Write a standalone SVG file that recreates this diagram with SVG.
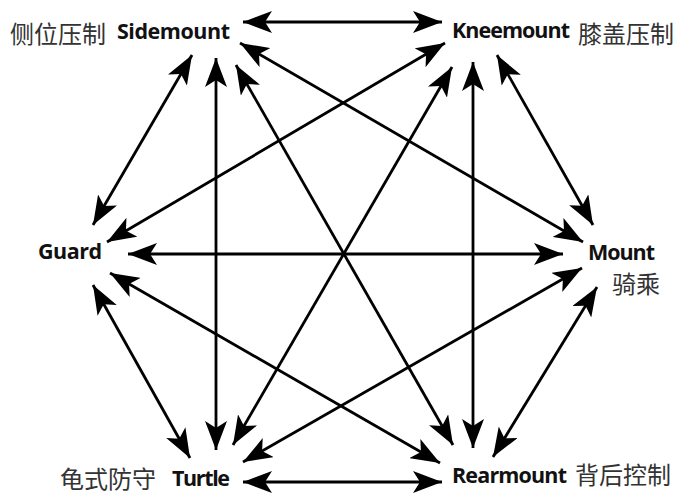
<svg xmlns="http://www.w3.org/2000/svg" width="693" height="496" viewBox="0 0 693 496">
<defs>
<marker id="ah" markerUnits="userSpaceOnUse" viewBox="0 0 30 22" markerWidth="30" markerHeight="22" refX="29" refY="11" orient="auto-start-reverse">
<path d="M29,11 L0,0 L7,11 L0,22 Z" fill="#000"/>
</marker>
</defs>
<style>
.c line{stroke:#000;stroke-width:2.8;fill:none;marker-start:url(#ah);marker-end:url(#ah)}
.en{font-family:"Open Sans","DejaVu Sans",sans-serif;font-weight:700;font-size:21.5px;fill:#111}
.zh{font-family:"Noto Sans CJK SC","Noto Sans",sans-serif;font-size:24px;fill:#333}
</style>
<rect width="693" height="496" fill="#fff"/>
<g id="connectors" class="c">
<line x1="243" y1="22" x2="442" y2="22"/>
<line x1="192" y1="55" x2="93" y2="225"/>
<line x1="216" y1="58" x2="216" y2="450"/>
<line x1="236" y1="65" x2="453" y2="445"/>
<line x1="240" y1="43" x2="583" y2="242"/>
<line x1="445" y1="43" x2="107" y2="242"/>
<line x1="452" y1="67" x2="233" y2="445"/>
<line x1="473" y1="62" x2="473" y2="448"/>
<line x1="497" y1="55" x2="593" y2="225"/>
<line x1="128" y1="254" x2="563" y2="254"/>
<line x1="110" y1="273" x2="440" y2="463"/>
<line x1="93" y1="285" x2="190" y2="458"/>
<line x1="582" y1="268" x2="243" y2="462"/>
<line x1="597" y1="287" x2="493" y2="457"/>
<line x1="243" y1="482" x2="442" y2="482"/>
</g>
<g id="sidemount">
<text class="zh" x="10" y="43">侧位压制</text>
<text class="en" x="117" y="39" textLength="113" lengthAdjust="spacing">Sidemount</text>
</g>
<g id="kneemount">
<text class="en" x="452" y="38" textLength="118" lengthAdjust="spacing">Kneemount</text>
<text class="zh" x="578" y="43">膝盖压制</text>
</g>
<g id="guard">
<text class="en" x="38" y="259" textLength="64" lengthAdjust="spacing">Guard</text>
</g>
<g id="mount">
<text class="en" x="588" y="260" textLength="67" lengthAdjust="spacing">Mount</text>
<text class="zh" x="612" y="293">骑乘</text>
</g>
<g id="turtle">
<text class="zh" x="60" y="488">龟式防守</text>
<text class="en" x="172" y="486" textLength="58" lengthAdjust="spacing">Turtle</text>
</g>
<g id="rearmount">
<text class="en" x="452" y="483" textLength="115" lengthAdjust="spacing">Rearmount</text>
<text class="zh" x="575" y="484">背后控制</text>
</g>
</svg>
